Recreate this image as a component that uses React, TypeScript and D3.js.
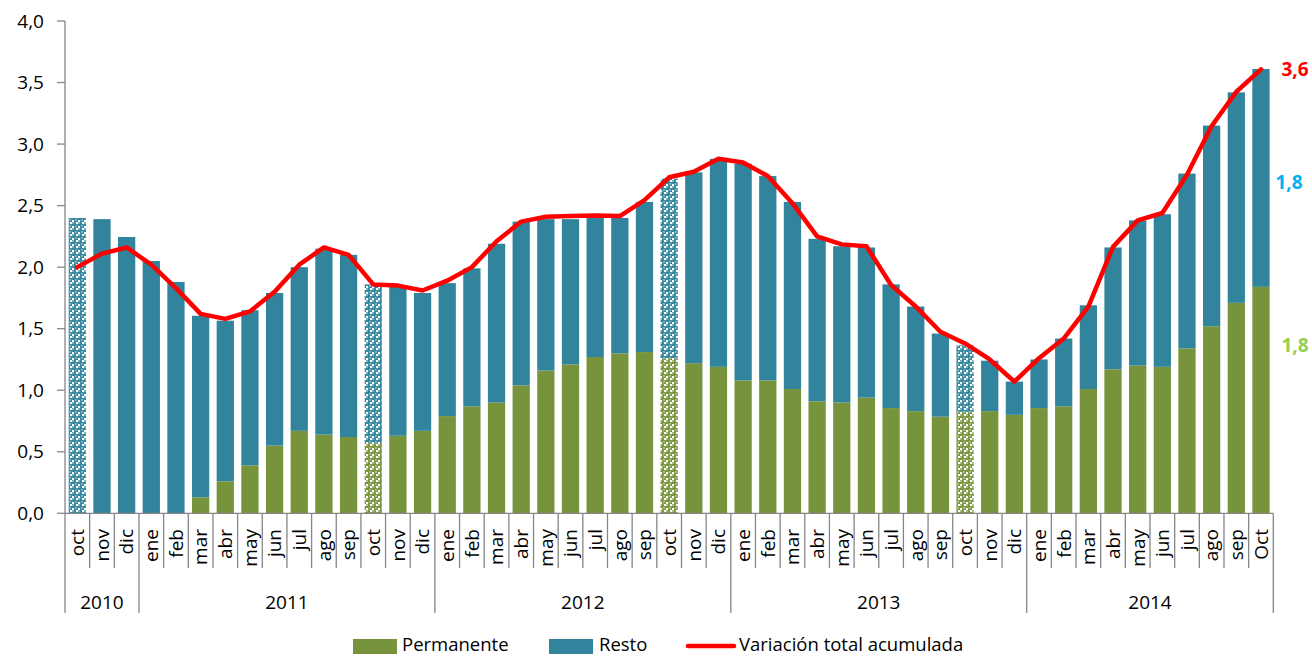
import React from "react";
import * as d3 from "d3";

const months = [
  "oct", "nov", "dic",
  "ene", "feb", "mar", "abr", "may", "jun", "jul", "ago", "sep", "oct", "nov", "dic",
  "ene", "feb", "mar", "abr", "may", "jun", "jul", "ago", "sep", "oct", "nov", "dic",
  "ene", "feb", "mar", "abr", "may", "jun", "jul", "ago", "sep", "oct", "nov", "dic",
  "ene", "feb", "mar", "abr", "may", "jun", "jul", "ago", "sep", "Oct",
];
const yearLabels = ["2010", "2011", "2012", "2013", "2014"];
const yearCounts = [3, 12, 12, 12, 10];
const hatched = [0, 12, 24, 36];

const permanente = [
  -0.40, -0.28, -0.085,
  -0.03, -0.05, 0.13, 0.26, 0.39, 0.55, 0.67, 0.64, 0.62, 0.57, 0.63, 0.67,
  0.79, 0.87, 0.90, 1.04, 1.16, 1.21, 1.27, 1.30, 1.31, 1.26, 1.22, 1.19,
  1.08, 1.08, 1.01, 0.91, 0.90, 0.94, 0.855, 0.83, 0.785, 0.825, 0.83, 0.80,
  0.855, 0.87, 1.01, 1.17, 1.20, 1.19, 1.34, 1.52, 1.71, 1.84,
];
const resto = [
  2.40, 2.39, 2.245,
  2.05, 1.88, 1.475, 1.305, 1.26, 1.24, 1.33, 1.51, 1.48, 1.29, 1.21, 1.12,
  1.08, 1.12, 1.29, 1.33, 1.23, 1.18, 1.14, 1.10, 1.22, 1.46, 1.55, 1.69,
  1.76, 1.66, 1.52, 1.32, 1.27, 1.22, 1.005, 0.85, 0.675, 0.54, 0.41, 0.27,
  0.395, 0.55, 0.68, 0.99, 1.18, 1.24, 1.42, 1.63, 1.71, 1.77,
];
const variacion = [
  2.00, 2.11, 2.16,
  2.02, 1.83, 1.62, 1.58, 1.64, 1.80, 2.02, 2.16, 2.10, 1.86, 1.85, 1.81,
  1.89, 2.00, 2.21, 2.37, 2.41, 2.415, 2.42, 2.415, 2.545, 2.73, 2.775, 2.88,
  2.85, 2.74, 2.52, 2.25, 2.185, 2.17, 1.855, 1.68, 1.475, 1.38, 1.25, 1.07,
  1.26, 1.42, 1.68, 2.165, 2.38, 2.44, 2.75, 3.146, 3.425, 3.607,
];
const yTicks = [0, 0.5, 1, 1.5, 2, 2.5, 3, 3.5, 4];
const endLabels = ["3,6", "1,8", "1,8"];

const GREEN = "#77933C";
const TEAL = "#31849B";
const RED = "#FF0000";
const AXIS = "#868686";
const FONT = "'Open Sans', 'Noto Sans', sans-serif";

export default function App() {
  const left = 65, right = 1273.3, top = 21, bottom = 513.3;
  const idx = months.map((_, i) => i);
  const x = d3.scaleBand<number>().domain(idx).range([left, right]).paddingInner(0.3).paddingOuter(0.15);
  const step = x.step();
  const y = d3.scaleLinear().domain([0, 4]).range([bottom, top]);
  const cx = (i: number) => (x(i) as number) + x.bandwidth() / 2;
  const line = d3.line<number>().x((_, i) => cx(i)).y((d) => y(d));
  const fmt = (v: number) => v.toFixed(1).replace(".", ",");

  const boundaries: number[] = [0];
  let acc = 0;
  yearCounts.forEach((c) => { acc += c; boundaries.push(acc); });
  const boundaryX = (k: number) => left + k * step;

  const last = months.length - 1;
  const lastTotal = variacion[last];

  return (
    <svg width={1312} height={659} style={{ position: "absolute", left: 0, top: 0, background: "#fff" }} fontFamily={FONT}>
      <defs>
        <clipPath id="plotClip">
          <rect x={left} y={top - 5} width={right - left} height={bottom - top + 5} />
        </clipPath>
        {[["patTeal", TEAL], ["patGreen", GREEN]].map(([id, c]) => (
          <pattern key={id} id={id} width={6} height={6} patternUnits="userSpaceOnUse">
            <rect width={6} height={6} fill="#fff" />
            <circle cx={1.5} cy={1.5} r={2.5} fill={c} />
            <circle cx={4.5} cy={4.5} r={2.5} fill={c} />
            <circle cx={1.0} cy={1.0} r={0.7} fill="#fff" />
            <circle cx={4.0} cy={4.0} r={0.7} fill="#fff" />
          </pattern>
        ))}
      </defs>

      {/* y axis */}
      <line x1={left} x2={left} y1={top} y2={bottom} stroke={AXIS} strokeWidth={1.3} />
      {yTicks.map((t) => (
        <g key={t}>
          <line x1={left - 8} x2={left} y1={y(t)} y2={y(t)} stroke={AXIS} strokeWidth={1.3} />
          <text x={44} y={y(t)} dy="0.35em" textAnchor="end" fontSize={19} fill="#000">{fmt(t)}</text>
        </g>
      ))}

      {/* bars */}
      <g clipPath="url(#plotClip)">
        {idx.map((i) => {
          const p = permanente[i];
          const r = resto[i];
          const isH = hatched.includes(i);
          const bx = x(i) as number;
          const bw = x.bandwidth();
          const pTop = Math.max(p, 0);
          return (
            <g key={i}>
              {p >= 0 ? (
                <rect x={bx} width={bw} y={y(p)} height={y(0) - y(p)} fill={isH ? "url(#patGreen)" : GREEN} />
              ) : (
                <rect x={bx} width={bw} y={y(0)} height={y(p) - y(0)} fill={isH ? "url(#patGreen)" : GREEN} />
              )}
              <rect x={bx} width={bw} y={y(pTop + r)} height={y(pTop) - y(pTop + r)} fill={isH ? "url(#patTeal)" : TEAL} />
            </g>
          );
        })}
      </g>

      {/* x axis */}
      <line x1={left} x2={right} y1={bottom} y2={bottom} stroke={AXIS} strokeWidth={1.3} />
      {d3.range(months.length + 1).map((k) => {
        const isYear = boundaries.includes(k);
        return (
          <line key={k} x1={boundaryX(k)} x2={boundaryX(k)} y1={bottom} y2={isYear ? 613 : 568} stroke={AXIS} strokeWidth={1.3} />
        );
      })}
      {months.map((m, i) => (
        <text key={i} transform={`translate(${cx(i)},529) rotate(-90)`} dy="0.36em" textAnchor="end" fontSize={19} fill="#000">{m}</text>
      ))}
      {yearLabels.map((yl, k) => (
        <text key={yl} x={(boundaryX(boundaries[k]) + boundaryX(boundaries[k + 1])) / 2} y={602} dy="0.35em" textAnchor="middle" fontSize={19} fill="#000">{yl}</text>
      ))}

      {/* total line */}
      <path d={line(variacion) || ""} fill="none" stroke={RED} strokeWidth={4.5} strokeLinejoin="round" strokeLinecap="round" />

      {/* end labels */}
      <text x={1295} y={y(lastTotal)} dy="0.35em" textAnchor="middle" fontSize={19} fontWeight="bold" fill={RED}>{endLabels[0]}</text>
      <text x={1289} y={y(permanente[last] + resto[last] / 2) + 4} dy="0.35em" textAnchor="middle" fontSize={19} fontWeight="bold" fill="#00B0F0">{endLabels[1]}</text>
      <text x={1295} y={y(permanente[last] / 2) - 55} dy="0.35em" textAnchor="middle" fontSize={19} fontWeight="bold" fill="#92D050">{endLabels[2]}</text>

      {/* legend */}
      <g fontSize={18.5} fill="#000">
        <rect x={353} y={639} width={44} height={15} fill={GREEN} />
        <text x={402} y={645} dy="0.35em">Permanente</text>
        <rect x={549} y={639} width={44} height={15} fill={TEAL} />
        <text x={599} y={645} dy="0.35em">Resto</text>
        <line x1={688} x2={734} y1={646} y2={646} stroke={RED} strokeWidth={4.5} strokeLinecap="round" />
        <text x={739} y={645} dy="0.35em">Variación total acumulada</text>
      </g>
    </svg>
  );
}
